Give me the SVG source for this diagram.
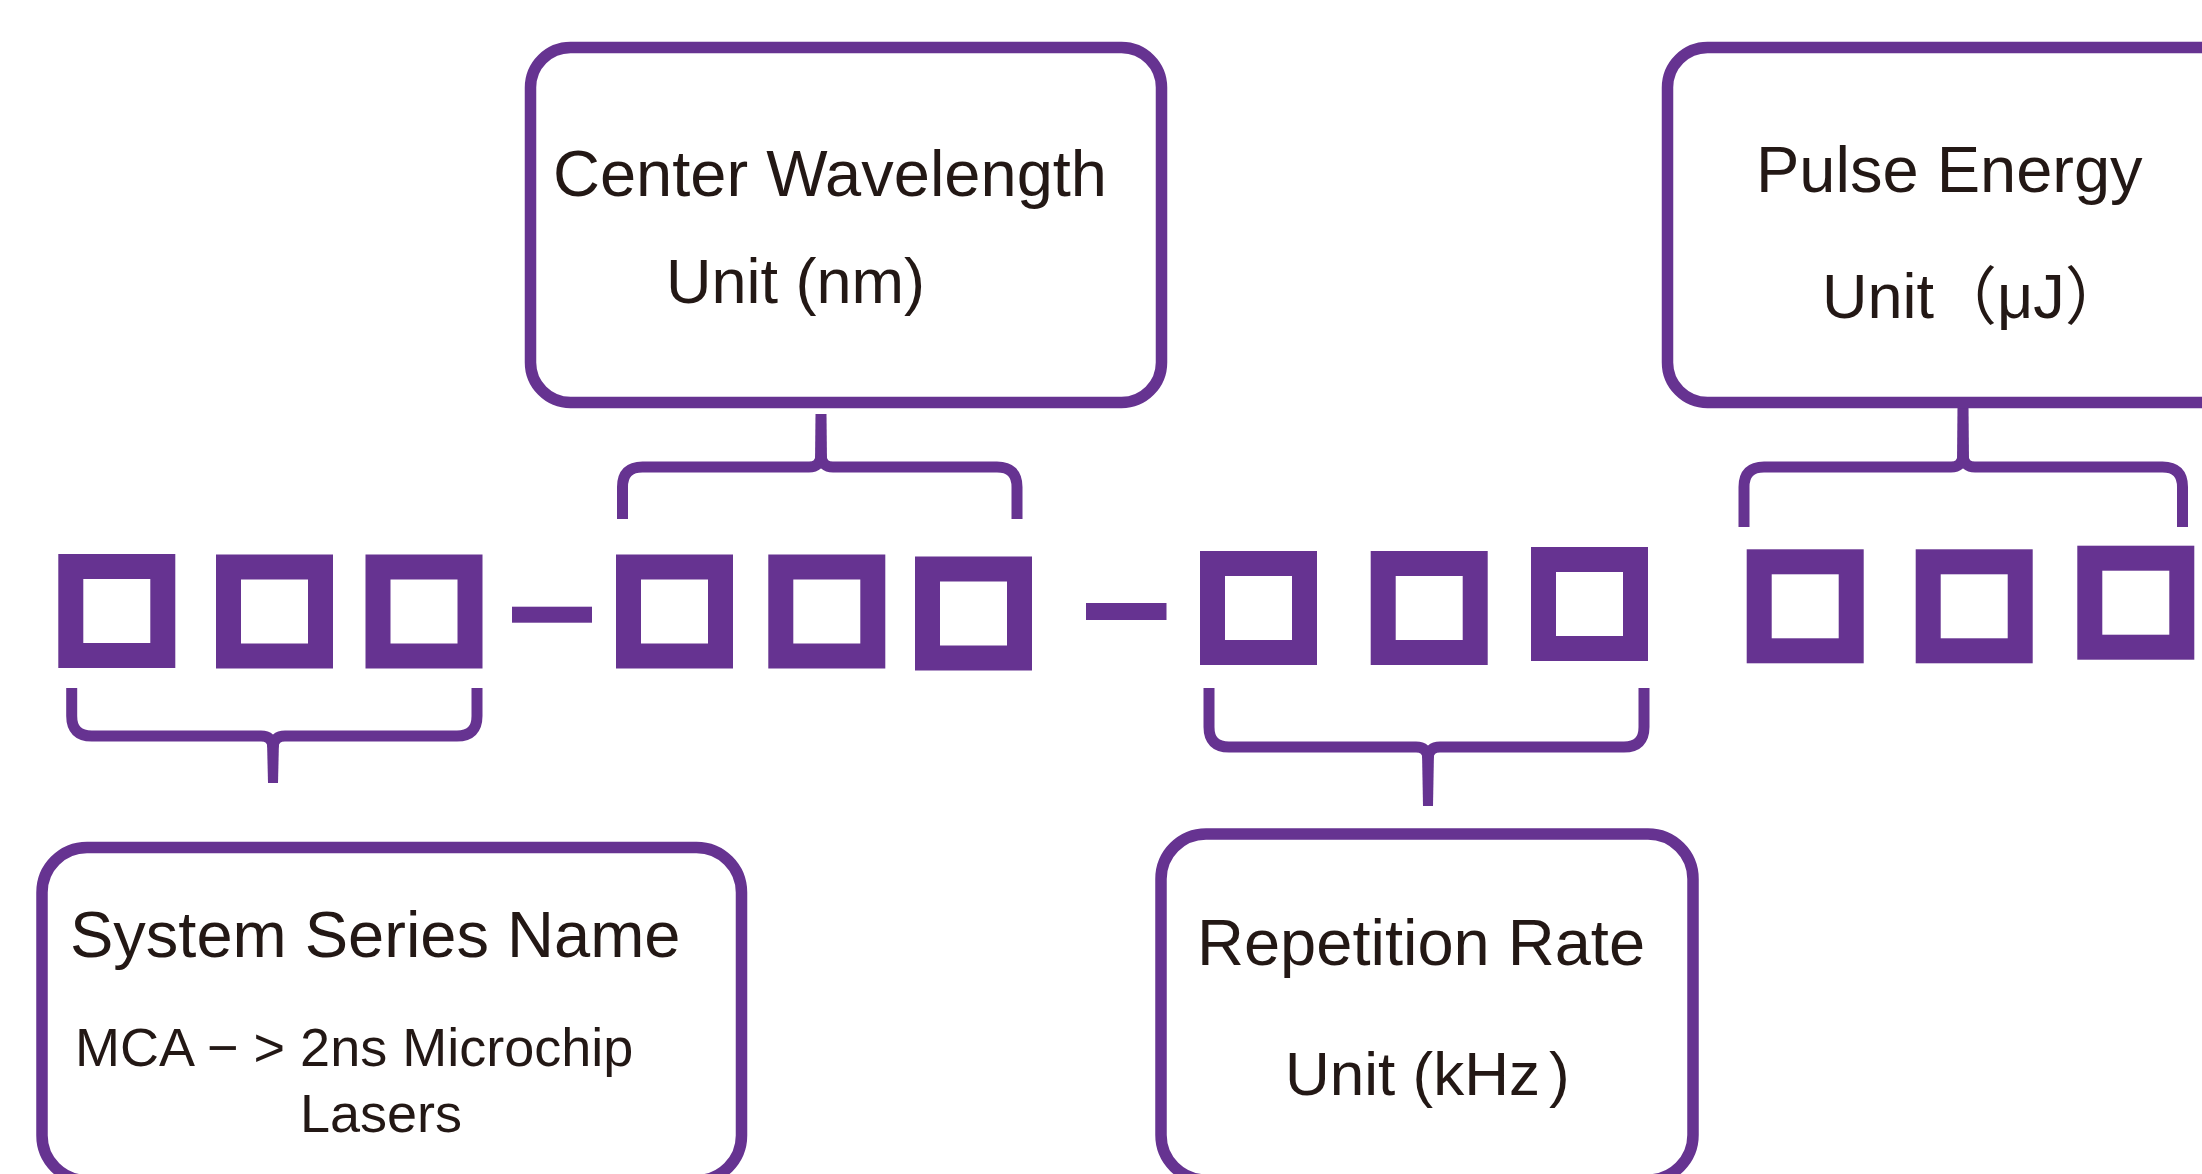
<svg xmlns="http://www.w3.org/2000/svg" width="2202" height="1174" viewBox="0 0 2202 1174">
  <style>
    .box { fill: #ffffff; stroke: #663391; stroke-width: 11.5; }
    .sq { fill: none; stroke: #663391; stroke-width: 25; }
    .dash { fill: #663391; }
    .brace { fill: none; stroke: #663391; stroke-width: 11; stroke-linejoin: round; }
    .stem { fill: #663391; }
    .t { font-family: "Liberation Sans", Arial, "Noto Sans CJK SC", sans-serif; fill: #231815; }
    .title { font-size: 65px; }
    .unit { font-size: 63px; }
    .small { font-size: 54px; }
  </style>
  <rect width="2202" height="1174" fill="#ffffff"/>

  <g id="code-squares">
    <rect class="sq" x="70.8" y="566.5" width="92" height="89"/>
    <rect class="sq" x="228.5" y="567" width="92" height="89"/>
    <rect class="sq" x="378" y="567" width="92" height="89"/>
    <rect class="sq" x="628.5" y="567" width="92" height="89"/>
    <rect class="sq" x="780.8" y="567" width="92" height="89"/>
    <rect class="sq" x="927.5" y="569" width="92" height="89"/>
    <rect class="sq" x="1212.5" y="563.5" width="92" height="89"/>
    <rect class="sq" x="1383.2" y="563.5" width="92" height="89"/>
    <rect class="sq" x="1543.5" y="559.5" width="92" height="89"/>
    <rect class="sq" x="1759.2" y="561.8" width="92" height="89"/>
    <rect class="sq" x="1928.2" y="561.8" width="92" height="89"/>
    <rect class="sq" x="2089.8" y="558.2" width="92" height="89"/>
    <rect class="dash" x="512" y="606.7" width="80" height="16"/>
    <rect class="dash" x="1086" y="603" width="80.5" height="17"/>
  </g>

  <g id="connectors">
    <!-- Center Wavelength brace (top) -->
    <path class="brace" d="M622.5,519 L622.5,487 Q622.5,467 642.5,467 L809,467 Q820,467 821,456 M1017,519 L1017,487 Q1017,467 997,467 L833,467 Q822,467 821,456"/>
    <path class="stem" d="M815,462 L827,462 L826.5,414 L815.5,414 Z"/>
    <!-- Pulse Energy brace (top) -->
    <path class="brace" d="M1744,527 L1744,487 Q1744,467 1764,467 L1951,467 Q1962,467 1963,456 M2182.5,527 L2182.5,487 Q2182.5,467 2162.5,467 L1975,467 Q1964,467 1963,456"/>
    <path class="stem" d="M1957,462 L1969,462 L1968.5,406 L1957.5,406 Z"/>
    <!-- System Series brace (bottom) -->
    <path class="brace" d="M71.7,688 L71.7,716 Q71.7,736 91.7,736 L261,736 Q272,736 273,747 M477,688 L477,716 Q477,736 457,736 L285,736 Q274,736 273,747"/>
    <path class="stem" d="M267,741 L279,741 L278,783 L268,783 Z"/>
    <!-- Repetition Rate brace (bottom) -->
    <path class="brace" d="M1209,688 L1209,727 Q1209,747 1229,747 L1416,747 Q1427,747 1428,758 M1644,688 L1644,727 Q1644,747 1624,747 L1440,747 Q1429,747 1428,758"/>
    <path class="stem" d="M1422,752 L1434,752 L1433,806 L1423,806 Z"/>
  </g>

  <g id="node-center-wavelength">
    <rect class="box" x="530.5" y="47.5" width="631" height="355" rx="40" ry="40"/>
    <text class="t title" x="553" y="196">Center Wavelength</text>
    <text class="t unit" x="666" y="303">Unit (nm)</text>
  </g>

  <g id="node-pulse-energy">
    <rect class="box" x="1667.5" y="47.5" width="620" height="355" rx="40" ry="40"/>
    <text class="t title" x="1756" y="192">Pulse Energy</text>
    <text class="t unit" x="1822" y="318">Unit（μJ）</text>
  </g>

  <g id="node-system-series">
    <rect class="box" x="42" y="847.5" width="699.5" height="333" rx="45" ry="45"/>
    <text class="t title" x="70" y="957">System Series Name</text>
    <text class="t small" x="75" y="1066">MCA − &gt; 2ns Microchip</text>
    <text class="t small" x="300" y="1132">Lasers</text>
  </g>

  <g id="node-repetition-rate">
    <rect class="box" x="1161" y="834" width="532" height="346" rx="45" ry="45"/>
    <text class="t title" x="1197" y="965">Repetition Rate</text>
    <text class="t" style="font-size:62px" x="1285" y="1095">Unit (kHz<tspan dx="9">)</tspan></text>
  </g>
</svg>
